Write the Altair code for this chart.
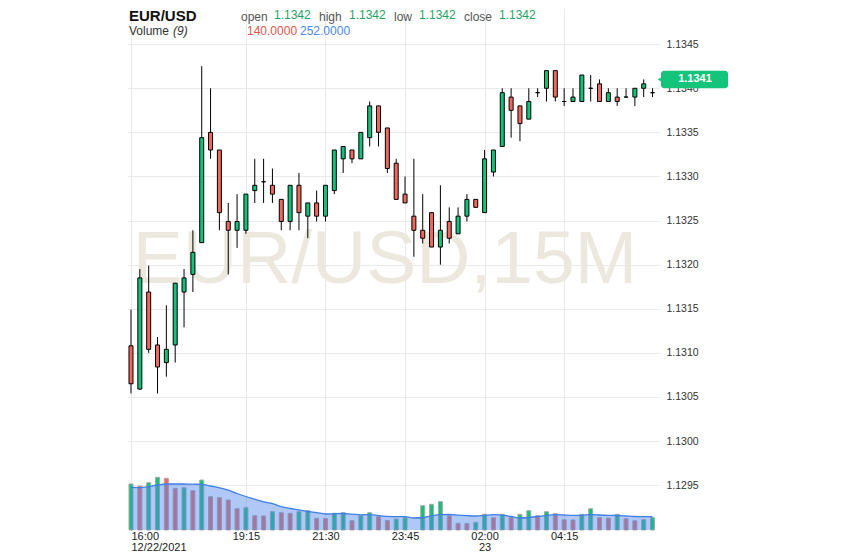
import altair as alt
import pandas as pd

# ---------------- data ----------------
times = pd.date_range("2021-12-22 16:00", periods=60, freq="15min").strftime("%Y-%m-%dT%H:%M:%SZ").tolist()

opens = [1.13108, 1.13059, 1.13169, 1.13109, 1.13089, 1.13109, 1.13169, 1.13189, 1.13225, 1.13350,
         1.13330, 1.13249, 1.13239, 1.13239, 1.13284, 1.13294, 1.13290, 1.13274, 1.13249, 1.13290,
         1.13255, 1.13270, 1.13255, 1.13284, 1.13320, 1.13330, 1.13320, 1.13344, 1.13380, 1.13355,
         1.13315, 1.13280, 1.13255, 1.13239, 1.13259, 1.13220, 1.13249, 1.13235, 1.13255, 1.13274,
         1.13259, 1.13305, 1.13334, 1.13390, 1.13380, 1.13365, 1.13395, 1.13400, 1.13420, 1.13385,
         1.13385, 1.13385, 1.13400, 1.13405, 1.13385, 1.13390, 1.13390, 1.13390, 1.13400, 1.13395]
highs = [1.13149, 1.13195, 1.13199, 1.13118, 1.13154, 1.13179, 1.13195, 1.13239, 1.13425, 1.13400,
         1.13330, 1.13270, 1.13280, 1.13280, 1.13320, 1.13320, 1.13309, 1.13274, 1.13290, 1.13304,
         1.13270, 1.13284, 1.13290, 1.13330, 1.13334, 1.13330, 1.13350, 1.13385, 1.13380, 1.13355,
         1.13320, 1.13300, 1.13320, 1.13280, 1.13259, 1.13290, 1.13265, 1.13265, 1.13280, 1.13274,
         1.13330, 1.13330, 1.13400, 1.13400, 1.13380, 1.13400, 1.13400, 1.13420, 1.13420, 1.13400,
         1.13400, 1.13415, 1.13415, 1.13410, 1.13400, 1.13400, 1.13400, 1.13400, 1.13410, 1.13400]
lows = [1.13054, 1.13058, 1.13100, 1.13054, 1.13073, 1.13089, 1.13129, 1.13169, 1.13225, 1.13320,
        1.13239, 1.13189, 1.13219, 1.13235, 1.13270, 1.13270, 1.13270, 1.13239, 1.13239, 1.13239,
        1.13230, 1.13249, 1.13249, 1.13280, 1.13304, 1.13315, 1.13320, 1.13334, 1.13334, 1.13304,
        1.13274, 1.13270, 1.13209, 1.13224, 1.13220, 1.13200, 1.13224, 1.13235, 1.13249, 1.13265,
        1.13259, 1.13300, 1.13334, 1.13344, 1.13340, 1.13365, 1.13390, 1.13385, 1.13385, 1.13380,
        1.13385, 1.13385, 1.13385, 1.13385, 1.13385, 1.13380, 1.13390, 1.13380, 1.13390, 1.13390]
closes = [1.13065, 1.13185, 1.13104, 1.13084, 1.13104, 1.13179, 1.13185, 1.13214, 1.13344, 1.13330,
          1.13259, 1.13239, 1.13249, 1.13280, 1.13290, 1.13294, 1.13280, 1.13249, 1.13290, 1.13259,
          1.13270, 1.13255, 1.13290, 1.13330, 1.13334, 1.13320, 1.13350, 1.13380, 1.13350, 1.13309,
          1.13274, 1.13270, 1.13239, 1.13230, 1.13220, 1.13239, 1.13230, 1.13255, 1.13274, 1.13265,
          1.13320, 1.13330, 1.13395, 1.13375, 1.13360, 1.13385, 1.13395, 1.13420, 1.13390, 1.13385,
          1.13390, 1.13415, 1.13400, 1.13385, 1.13395, 1.13385, 1.13390, 1.13400, 1.13405, 1.13395]
volumes = [920, 880, 946, 1054, 1034, 834, 846, 786, 1000, 666,
           646, 600, 426, 446, 286, 280, 366, 346, 334, 366,
           386, 234, 230, 334, 346, 186, 286, 346, 266, 192,
           220, 246, 0, 486, 514, 566, 286, 134, 130, 154,
           314, 246, 314, 246, 314, 386, 286, 366, 326, 206,
           200, 314, 426, 246, 240, 314, 226, 186, 206, 246]
volume_ma = [854, 846, 866, 900, 920, 920, 920, 916, 914, 880,
             844, 798, 730, 670, 616, 562, 528, 466, 430, 402,
             370, 348, 320, 326, 330, 316, 304, 308, 288, 274,
             268, 268, 240, 250, 282, 308, 310, 296, 286, 280,
             294, 306, 298, 270, 240, 250, 270, 292, 308, 300,
             294, 294, 310, 300, 294, 290, 280, 270, 266, 266]
last_price = 1.1341

tick_times = ["2021-12-22T16:00:00Z", "2021-12-22T19:15:00Z", "2021-12-22T21:30:00Z",
              "2021-12-22T23:45:00Z", "2021-12-23T02:00:00Z", "2021-12-23T04:15:00Z"]
tick_main = ["16:00", "19:15", "21:30", "23:45", "02:00", "04:15"]
tick_sub = ["12/22/2021", "", "", "", "23", ""]
price_ticks = [1.1295, 1.1300, 1.1305, 1.1310, 1.1315, 1.1320, 1.1325, 1.1330, 1.1335, 1.1340, 1.1345]

header_labels = ["open", "high", "low", "close"]
header_values = ["1.1342", "1.1342", "1.1342", "1.1342"]
vol_header = ["140.0000", "252.0000"]

# ---------------- style ----------------
W, H = 532, 522
GREEN = "#12c27a"
RED = "#f2675b"
FONT = "Liberation Sans"
GRID = "#e9e9e9"


def dt(s):
    ts = pd.Timestamp(s)
    return alt.DateTime(year=ts.year, month=ts.month, date=ts.day,
                        hours=ts.hour, minutes=ts.minute, seconds=ts.second, utc=True)


df = pd.DataFrame({"t": times, "open": opens, "high": highs, "low": lows,
                   "close": closes, "vol": volumes, "ma": volume_ma})
df["vdir"] = ["up"] + ["up" if volumes[i] > volumes[i - 1] else "down" for i in range(1, len(volumes))]

expr = "[utcFormat(datum.value, '%H:%M'), '']"
for m, s in reversed(list(zip(tick_main, tick_sub))):
    expr = f"utcFormat(datum.value, '%H:%M') == '{m}' ? ['{m}', '{s}'] : ({expr})"

first_tick = tick_main[0]
x_axis = alt.Axis(values=[dt(v) for v in tick_times], labelExpr=expr, title=None,
                  ticks=False, domain=False, grid=True, gridColor=GRID,
                  labelFont=FONT, labelFontSize=11, labelColor="#222",
                  labelPadding=0, labelBaseline="top", labelLineHeight=11,
                  labelAlign={"condition": {"test": f"utcFormat(datum.value, '%H:%M') == '{first_tick}'",
                                            "value": "left"}, "value": "center"},
                  labelFlush=False, labelOverlap=False)
x_scale = alt.Scale(type="utc", domain=[dt("2021-12-22T15:53:13Z"), dt("2021-12-23T06:55:56Z")],
                    padding=0, nice=False)
X = alt.X("t:T", scale=x_scale, axis=x_axis)

p_scale = alt.Scale(domain=[1.128992, 1.134910], zero=False, nice=False, padding=0)
p_axis = alt.Axis(orient="right", values=price_ticks, format=".4f", title=None,
                  ticks=False, domain=False, grid=True, gridColor=GRID,
                  labelFont=FONT, labelFontSize=10.5, labelColor="#333",
                  labelPadding=7, zindex=0)
v_scale = alt.Scale(domain=[0, 10440], nice=False, zero=True, padding=0)

base = alt.Chart(df)
one = alt.Chart(pd.DataFrame({"p": [last_price]}))

# volume
vol_bars = base.transform_filter("datum.vol > 0").mark_bar(size=4, stroke="#a8a8a8", strokeWidth=1).encode(
    x=X,
    y=alt.Y("vol:Q", scale=v_scale, axis=None),
    fill=alt.Fill("vdir:N", scale=alt.Scale(domain=["up", "down"], range=[GREEN, RED]), legend=None),
)
ma_area = base.mark_area(color="#4f85e9", opacity=0.45, interpolate="monotone").encode(
    x=X, y=alt.Y("ma:Q", scale=v_scale, axis=None))
ma_line = base.mark_line(color="#3f7fe6", strokeWidth=1.3, interpolate="monotone").encode(
    x=X, y=alt.Y("ma:Q", scale=v_scale, axis=None))
vol_group = alt.layer(vol_bars, ma_area, ma_line)

# watermark
watermark = one.mark_text(text="EUR/USD,15M", font=FONT, fontSize=75, color="#ece8de",
                          align="center", baseline="middle").encode(
    x=alt.value(258), y=alt.value(252))

# candles
wick = base.mark_rule(color="#000", strokeWidth=1).encode(
    x=X, y=alt.Y("low:Q", scale=p_scale, axis=p_axis), y2="high:Q")
body = base.mark_bar(size=4, stroke="#000", strokeWidth=1).encode(
    x=X, y=alt.Y("open:Q", scale=p_scale, axis=p_axis), y2="close:Q",
    fill=alt.condition("datum.close > datum.open", alt.value(GREEN), alt.value(RED)))

# last price tag
tag = one.transform_calculate(top="datum.p + 0.0001", bot="datum.p - 0.0001").mark_rect(
    color="#14c47a", cornerRadius=3).encode(
    x=alt.value(W + 2), x2=alt.value(W + 69),
    y=alt.Y("top:Q", scale=p_scale, axis=p_axis), y2="bot:Q")
tag_ptr = one.mark_point(shape="triangle-left", filled=True, size=30, color="#14c47a", opacity=1).encode(
    x=alt.value(W + 1), y=alt.Y("p:Q", scale=p_scale, axis=p_axis))
tag_text = one.mark_text(font=FONT, fontSize=11, fontWeight="bold", color="white",
                         align="center", baseline="middle").encode(
    x=alt.value(W + 36), y=alt.Y("p:Q", scale=p_scale, axis=p_axis),
    text=alt.Text("p:Q", format=".4f"))


# header
def txt(s, x, y, size=12, color="#555", weight="normal", style="normal"):
    return one.mark_text(text=s, font=FONT, fontSize=size, color=color, fontWeight=weight,
                         fontStyle=style, align="left", baseline="alphabetic").encode(
        x=alt.value(x), y=alt.value(y))


headers = [txt("EUR/USD", 2, 13, size=15, color="#111", weight="bold")]
lab_x = [114, 192, 267, 337]
val_x = [147, 222, 292, 372]
for lab, val, lx, vx in zip(header_labels, header_values, lab_x, val_x):
    headers.append(txt(lab, lx, 13, color="#555"))
    headers.append(txt(val, vx, 10.5, color="#1ea463"))
headers.append(txt("Volume", 2, 27, color="#333"))
headers.append(txt("(9)", 46, 27, color="#333", style="italic"))
headers.append(txt(vol_header[0], 120, 27, color="#e0554c"))
headers.append(txt(vol_header[1], 173, 27, color="#4a8ae8"))

price_group = alt.layer(watermark, wick, body, tag, tag_ptr, tag_text, *headers)

chart = alt.layer(vol_group, price_group).resolve_scale(y="independent").properties(
    width=W, height=H,
    autosize=alt.AutoSizeParams(type="none"),
    padding={"left": 119, "top": 0, "right": 90, "bottom": 24},
    background="white",
).configure_view(stroke=None)

chart.save("out.html", embed_options={"renderer": "svg", "actions": False})
